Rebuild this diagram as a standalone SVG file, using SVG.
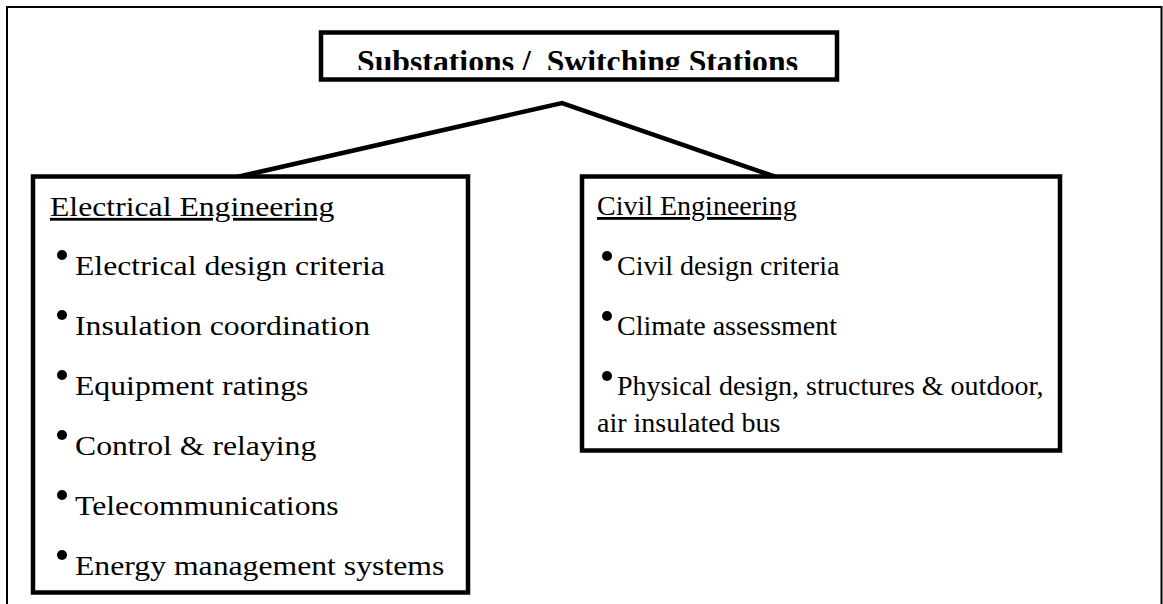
<svg xmlns="http://www.w3.org/2000/svg" width="1163" height="604" viewBox="0 0 1163 604">
  <style>
    .frame { fill: none; stroke: #000; stroke-width: 2; }
    .box { fill: #fff; stroke: #000; stroke-width: 4.5; }
    .link { fill: none; stroke: #000; stroke-width: 4.5; stroke-linecap: butt; }
    .title { font-family: "Liberation Serif", "Times New Roman", serif; font-weight: bold; font-size: 31px; fill: #000; }
    .txt { font-family: "Liberation Serif", "Times New Roman", serif; font-size: 28px; fill: #000; }
    .head { text-decoration: underline; }
    .dot { fill: #000; }
  </style>
  <defs>
    <clipPath id="titleClip">
      <rect x="323" y="35" width="512" height="35"/>
    </clipPath>
  </defs>

  <rect width="1163" height="604" fill="#fff"/>

  <!-- page frame, open at the bottom -->
  <path class="frame" d="M7,610 V7 H1161.5 V610"/>

  <!-- connectors from the title to both discipline boxes -->
  <g id="connectors">
    <path class="link" d="M237,177 L562,103 L776,177"/>
  </g>

  <!-- title -->
  <g id="node-title">
    <rect class="box" x="321" y="32.5" width="516" height="47"/>
    <text class="title" x="357" y="71.5" textLength="441" lengthAdjust="spacingAndGlyphs" clip-path="url(#titleClip)" xml:space="preserve">Substations /  Switching Stations</text>
  </g>

  <!-- electrical engineering -->
  <g id="node-electrical">
    <rect class="box" x="33" y="176.5" width="435" height="416"/>
    <text class="txt head" transform="translate(50,216) scale(1.133,1)">Electrical Engineering</text>
    <circle class="dot" cx="62" cy="255" r="5"/>
    <text class="txt" transform="translate(75,275) scale(1.133,1)">Electrical design criteria</text>
    <circle class="dot" cx="62" cy="315" r="5"/>
    <text class="txt" transform="translate(75,335) scale(1.133,1)">Insulation coordination</text>
    <circle class="dot" cx="62" cy="375" r="5"/>
    <text class="txt" transform="translate(75,395) scale(1.133,1)">Equipment ratings</text>
    <circle class="dot" cx="62" cy="435" r="5"/>
    <text class="txt" transform="translate(75,455) scale(1.133,1)">Control &amp; relaying</text>
    <circle class="dot" cx="62" cy="495" r="5"/>
    <text class="txt" transform="translate(75,515) scale(1.133,1)">Telecommunications</text>
    <circle class="dot" cx="62" cy="555" r="5"/>
    <text class="txt" transform="translate(75,575) scale(1.133,1)">Energy management systems</text>
  </g>

  <!-- civil engineering -->
  <g id="node-civil">
    <rect class="box" x="582" y="176.5" width="478" height="274"/>
    <text class="txt head" x="597" y="215">Civil Engineering</text>
    <circle class="dot" cx="607" cy="256" r="5"/>
    <text class="txt" x="617" y="275">Civil design criteria</text>
    <circle class="dot" cx="607" cy="316" r="5"/>
    <text class="txt" x="617" y="335">Climate assessment</text>
    <circle class="dot" cx="607" cy="376" r="5"/>
    <text class="txt" x="617" y="395">Physical design, structures &amp; outdoor,</text>
    <text class="txt" x="597" y="432">air insulated bus</text>
  </g>
</svg>
